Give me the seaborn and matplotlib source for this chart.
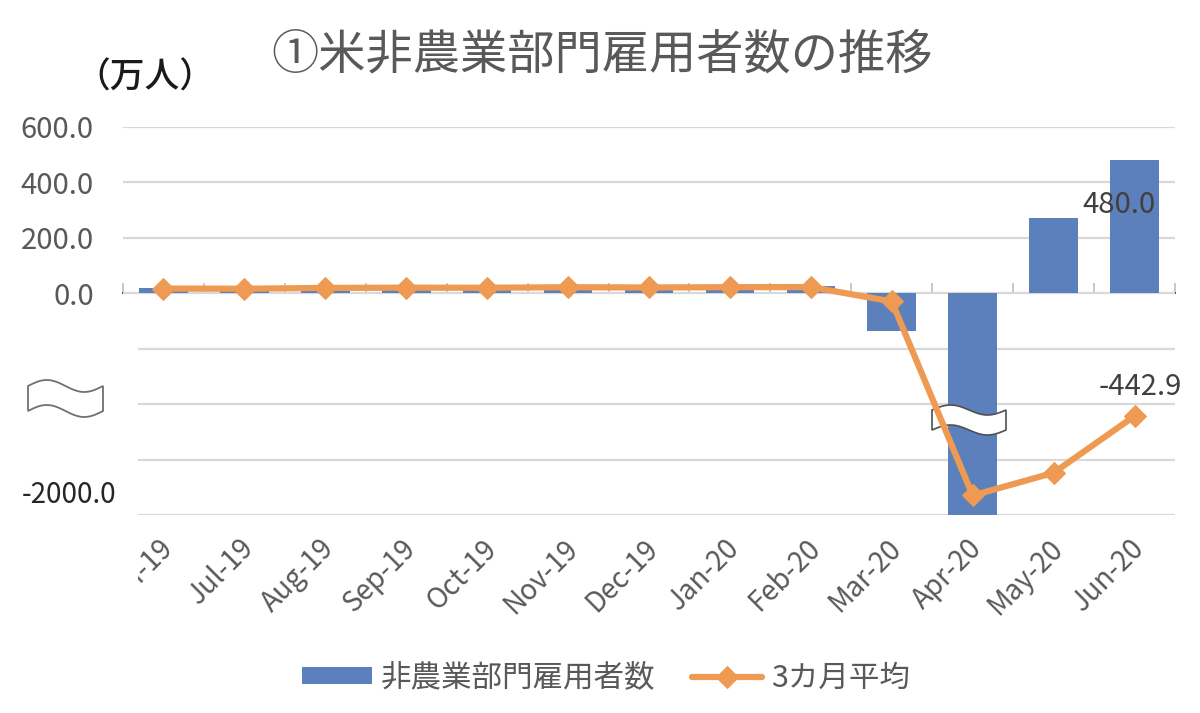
import numpy as np
import pandas as pd
import matplotlib
matplotlib.use("Agg")
import matplotlib.pyplot as plt
from matplotlib.patches import Polygon, Rectangle
from matplotlib.transforms import ScaledTranslation
import seaborn as sns

# ---- data (万人) ----
months = ["Jun-19", "Jul-19", "Aug-19", "Sep-19", "Oct-19", "Nov-19", "Dec-19",
          "Jan-20", "Feb-20", "Mar-20", "Apr-20", "May-20", "Jun-20"]
payrolls = [17.8, 19.4, 20.7, 20.8, 18.5, 26.1, 18.4, 21.4, 27.5, -137.3, -2078.7, 272.5, 480.0]
avg3 = [17.1, 16.4, 19.3, 20.3, 20.0, 21.8, 21.0, 22.0, 22.4, -29.5, -729.5, -647.8, -442.9]
yticks = [-800, -600, -400, -200, 0, 200, 400, 600]
ytick_labels = ["", "", "", "", "0.0", "200.0", "400.0", "600.0"]
bar_label = "非農業部門雇用者数"
line_label = "3カ月平均"
title = "①米非農業部門雇用者数の推移"
unit = "（万人）"
fake_bottom_label = "-2000.0"

BLUE = "#5B80BC"
ORANGE = "#EE9A52"
GRID = "#D9D9D9"
TXT = "#595959"

sns.set_theme(style="white")
plt.rcParams["font.family"] = ["Noto Sans CJK JP", "DejaVu Sans"]

W, H = 1200, 713
fig = plt.figure(figsize=(12, 7.13), dpi=100)
fig.patch.set_facecolor("white")

def fx(px):
    return px / W

def fy(py):
    return 1 - py / H

ax = fig.add_axes([fx(123), fy(515), fx(1175) - fx(123), fy(127) - fy(515)])

df = pd.DataFrame({"month": months, "payrolls": payrolls, "avg3": avg3, "pos": np.arange(len(months))})

sns.barplot(data=df, x="month", y="payrolls", color=BLUE, width=0.6, saturation=1,
            ax=ax, label=bar_label, zorder=2, linewidth=0)
sns.lineplot(data=df, x="pos", y="avg3", color=ORANGE, linewidth=4.5, marker="D",
             markersize=11, markeredgecolor=ORANGE, sort=False, ax=ax,
             label=line_label, zorder=4)

ax.set_xlim(-0.5, len(months) - 0.5)
ax.set_ylim(-800, 600)
ax.set_yticks(yticks)
ax.set_yticklabels(ytick_labels)
ax.yaxis.grid(True, color=GRID, linewidth=1.6, zorder=0)
ax.set_axisbelow(True)
for s in ax.spines.values():
    s.set_visible(False)
ax.set_xlabel("")
ax.set_ylabel("")
ax.tick_params(axis="y", length=0, pad=21, labelsize=21, labelcolor=TXT)
ax.tick_params(axis="x", length=0, pad=21, labelsize=20, labelcolor=TXT)
ax.set_xticks(np.arange(len(months)))
ax.set_xticklabels(months)
offset = ScaledTranslation(5 / 100, 0, fig.dpi_scale_trans)
for lbl in ax.get_xticklabels():
    lbl.set_rotation(45)
    lbl.set_ha("right")
    lbl.set_va("center")
    lbl.set_rotation_mode("anchor")
    lbl.set_transform(lbl.get_transform() + offset)

# zero axis line with boundary tick marks
sec = ax.secondary_xaxis(800 / 1400)
sec.set_xticks(np.arange(len(months) + 1) - 0.5)
sec.set_xticklabels([])
sec.spines["bottom"].set_color("#C8C8C8")
sec.spines["bottom"].set_linewidth(1.6)
sec.tick_params(axis="x", length=7, width=1.4, color="#C8C8C8", direction="out")

# data labels
ax.annotate(f"{payrolls[-1]:.1f}", xy=(len(months) - 1, payrolls[-1]), xytext=(-11, -32),
            textcoords="offset points", ha="center", va="center", fontsize=21, color="#404040", zorder=6)
ax.annotate(f"{avg3[-1]:.1f}", xy=(len(months) - 1, avg3[-1]), xytext=(4, 21),
            textcoords="offset points", ha="center", va="center", fontsize=21, color="#404040", zorder=6)

# white mask over the lower-left (hides compressed-axis labels)
fig.add_artist(Rectangle((0, fy(660)), fx(138), fy(312) - fy(660), transform=fig.transFigure,
                         facecolor="white", edgecolor="none", zorder=5))

def wave(x0, x1, ytop, ybot, amp, n=40):
    t = np.linspace(0, 1, n)
    xs = x0 + (x1 - x0) * t
    top = ytop - amp * np.sin(2 * np.pi * t)
    bot = ybot - amp * np.sin(2 * np.pi * t)
    pts = [(fx(x), fy(y)) for x, y in zip(xs, top)] + [(fx(x), fy(y)) for x, y in zip(xs[::-1], bot[::-1])]
    return pts

fig.add_artist(Polygon(wave(28, 103, 386, 411, 6), closed=True, transform=fig.transFigure,
                       facecolor="white", edgecolor="#707070", linewidth=1.3, zorder=6))
# break mark over the April bar (drawn below the line)
ax.add_patch(Polygon(wave(932, 1006, 410, 430, 5), closed=True, transform=fig.transFigure,
                     facecolor="white", edgecolor="#505050", linewidth=1.2, zorder=3))

fig.text(fx(69), fy(495), fake_bottom_label, ha="center", va="center", fontsize=20,
         color="#262626", zorder=7)
fig.text(fx(145), fy(78), unit, ha="center", va="center", fontsize=25, color="#1a1a1a",
         fontweight="medium", zorder=7)
fig.text(fx(602), fy(55), title, ha="center", va="center", fontsize=34, color=TXT)

handles, labels = ax.get_legend_handles_labels()
order = [labels.index(bar_label), labels.index(line_label)]
leg = ax.legend([handles[i] for i in order], [labels[i] for i in order],
                loc="center", bbox_to_anchor=(fx(606), fy(678)), bbox_transform=fig.transFigure,
                ncol=2, frameon=False, fontsize=22, handlelength=2.3, handleheight=0.45,
                columnspacing=1.2, handletextpad=0.3, labelcolor=TXT)

fig.savefig("out.png", dpi=100, facecolor="white")
